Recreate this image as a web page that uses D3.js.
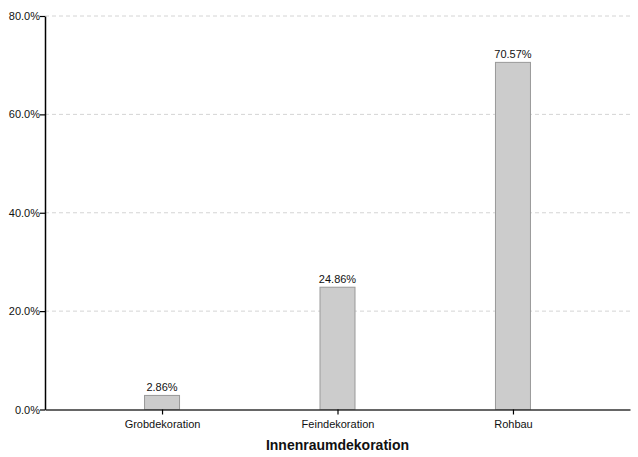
<!DOCTYPE html>
<html><head><meta charset="utf-8">
<script src="https://cdn.jsdelivr.net/npm/d3@7"></script>
<style>
body{margin:0;background:#fff;}
text{font-family:"Liberation Sans",Arial,sans-serif;}
</style></head>
<body><svg id="c" width="638" height="457"></svg>
<script>
const categories = ["Grobdekoration","Feindekoration","Rohbau"];
const values = [2.86,24.86,70.57];
const yTicks = [0,20,40,60,80];
const xTitle = "Innenraumdekoration";

(function(){
const svg = d3.select("#c");
const mLeft=45, mRight=630, mTop=16, mBottom=409.5;
const x = d3.scalePoint().domain(categories).range([mLeft,mRight]).padding(0.667);
const y = d3.scaleLinear().domain([0,80]).range([mBottom,mTop]);
const bw = 35;

// grid
svg.append("g").selectAll("line").data(yTicks.filter(d=>d>0)).join("line")
  .attr("x1",mLeft).attr("x2",mRight).attr("y1",d=>y(d)).attr("y2",d=>y(d))
  .attr("stroke","#d4d4d4").attr("stroke-dasharray","4,3").attr("stroke-width",1);

// bars
svg.append("g").selectAll("rect").data(values).join("rect")
  .attr("x",(d,i)=>x(categories[i])-bw/2).attr("width",bw)
  .attr("y",d=>y(d)).attr("height",d=>mBottom-y(d))
  .attr("fill","#cccccc").attr("stroke","#999999").attr("stroke-width",1);

// labels
svg.append("g").selectAll("text").data(values).join("text")
  .attr("x",(d,i)=>x(categories[i])).attr("y",d=>y(d)-4)
  .attr("text-anchor","middle").attr("font-size",11).attr("fill","#111")
  .text(d=>d.toFixed(2)+"%");

// y axis
const ya = svg.append("g").attr("transform",`translate(${mLeft},0)`)
  .call(d3.axisLeft(y).tickValues(yTicks).tickFormat(d=>d.toFixed(1)+"%").tickSize(5).tickSizeOuter(0));
ya.select(".domain").attr("stroke","#000").attr("stroke-width",1.5);
ya.selectAll(".tick line").attr("stroke","#000").attr("stroke-width",1.2);
ya.selectAll("text").attr("font-size",11).attr("fill","#111").attr("font-family","Liberation Sans, Arial, sans-serif").attr("x",-5);

// x axis
const xa = svg.append("g").attr("transform",`translate(0,${mBottom})`)
  .call(d3.axisBottom(x).tickSize(5).tickSizeOuter(0));
xa.select(".domain").attr("stroke","#333").attr("stroke-width",1.5);
xa.selectAll(".tick line").attr("stroke","#000").attr("stroke-width",1.2);
xa.selectAll("text").attr("font-size",11).attr("fill","#111").attr("font-family","Liberation Sans, Arial, sans-serif").attr("dy","0.95em");

svg.append("text").attr("x",(mLeft+mRight)/2).attr("y",450).attr("text-anchor","middle")
  .attr("font-size",14).attr("font-weight","bold").attr("fill","#111").text(xTitle);
})();
</script></body></html>
